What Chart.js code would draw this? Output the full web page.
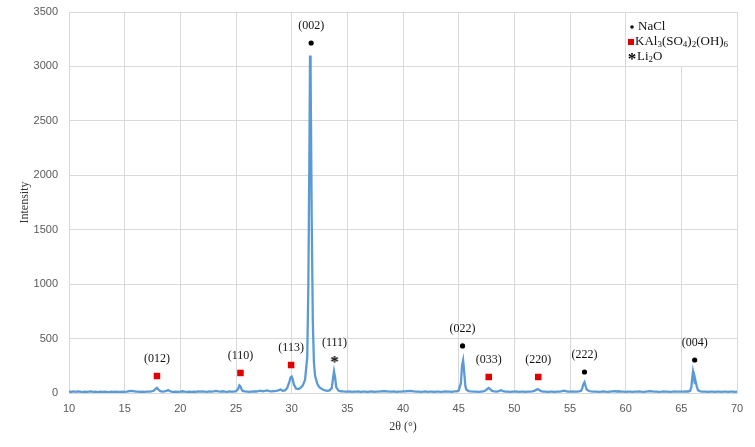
<!DOCTYPE html>
<html>
<head>
<meta charset="utf-8">
<script src="https://cdn.jsdelivr.net/npm/chart.js@4.4.1/dist/chart.umd.min.js"></script>
<style>
  html, body { margin: 0; padding: 0; background: #fff; }
  #wrap { width: 755px; height: 447px; }
</style>
</head>
<body>
<div id="wrap"><canvas id="xrd-chart" width="755" height="447"></canvas></div>
<script>
// XRD pattern
const twoTheta = [
  10.0, 10.2, 10.4, 10.6, 10.8, 11.0, 11.2, 11.4, 11.6, 11.8, 12.0, 12.2, 12.4, 12.6, 12.8,
  13.0, 13.2, 13.4, 13.6, 13.8, 14.0, 14.2, 14.4, 14.6, 14.8, 15.0, 15.2, 15.4, 15.6, 15.8,
  16.0, 16.2, 16.4, 16.6, 16.8, 17.0, 17.2, 17.4, 17.6, 17.8, 17.9, 18.0, 18.2, 18.4, 18.6,
  18.8, 18.9, 19.0, 19.2, 19.4, 19.6, 19.8, 20.0, 20.2, 20.4, 20.6, 20.8, 21.0, 21.2, 21.4,
  21.6, 21.8, 22.0, 22.2, 22.4, 22.6, 22.8, 23.0, 23.2, 23.4, 23.6, 23.8, 24.0, 24.2, 24.4,
  24.6, 24.8, 25.0, 25.2, 25.3, 25.4, 25.5, 25.6, 25.8, 26.0, 26.2, 26.4, 26.6, 26.8, 27.0,
  27.2, 27.4, 27.6, 27.8, 28.0, 28.2, 28.4, 28.6, 28.8, 29.0, 29.2, 29.4, 29.6, 29.8, 29.9,
  30.0, 30.1, 30.2, 30.4, 30.6, 30.8, 31.0, 31.2, 31.4, 31.5, 31.6, 31.65, 31.7, 31.8, 31.9,
  32.0, 32.1, 32.3, 32.5, 32.8, 33.0, 33.2, 33.4, 33.6, 33.7, 33.8, 33.9, 34.0, 34.2, 34.4,
  34.6, 34.8, 35.0, 35.2, 35.4, 35.6, 35.8, 36.0, 36.2, 36.4, 36.6, 36.8, 37.0, 37.2, 37.4,
  37.6, 37.8, 38.0, 38.2, 38.4, 38.6, 38.8, 39.0, 39.2, 39.4, 39.6, 39.8, 40.0, 40.2, 40.4,
  40.6, 40.8, 41.0, 41.2, 41.4, 41.6, 41.8, 42.0, 42.2, 42.4, 42.6, 42.8, 43.0, 43.2, 43.4,
  43.6, 43.8, 44.0, 44.2, 44.4, 44.6, 44.8, 45.0, 45.2, 45.3, 45.4, 45.5, 45.6, 45.7, 45.9,
  46.1, 46.4, 46.6, 46.8, 47.0, 47.2, 47.4, 47.6, 47.7, 47.8, 48.0, 48.2, 48.4, 48.6, 48.8,
  49.0, 49.2, 49.4, 49.6, 49.8, 50.0, 50.2, 50.4, 50.6, 50.8, 51.0, 51.2, 51.4, 51.6, 51.8,
  52.0, 52.1, 52.2, 52.4, 52.6, 52.8, 53.0, 53.2, 53.4, 53.6, 53.8, 54.0, 54.2, 54.4, 54.5,
  54.6, 54.8, 55.0, 55.2, 55.4, 55.6, 55.8, 56.0, 56.1, 56.2, 56.3, 56.4, 56.5, 56.7, 56.9,
  57.1, 57.4, 57.6, 57.8, 58.0, 58.2, 58.4, 58.6, 58.8, 59.0, 59.2, 59.4, 59.6, 59.8, 60.0,
  60.2, 60.4, 60.6, 60.8, 61.0, 61.2, 61.4, 61.6, 61.8, 62.0, 62.2, 62.4, 62.6, 62.8, 63.0,
  63.2, 63.4, 63.6, 63.8, 64.0, 64.2, 64.4, 64.6, 64.8, 65.0, 65.2, 65.4, 65.6, 65.8, 65.9,
  66.0, 66.05, 66.1, 66.2, 66.25, 66.3, 66.4, 66.5, 66.7, 66.9, 67.1, 67.4, 67.6, 67.8, 68.0,
  68.2, 68.4, 68.6, 68.8, 69.0, 69.2, 69.4, 69.6, 69.8, 70.0
];
const intensity = [
  12, 10, 14, 11, 15, 12, 9, 13, 10, 12, 14, 11, 13, 9, 12,
  10, 13, 11, 9, 12, 10, 13, 11, 10, 12, 11, 13, 18, 20, 17,
  13, 12, 10, 12, 11, 13, 12, 14, 20, 40, 48, 34, 17, 13, 14,
  22, 27, 20, 13, 11, 12, 10, 12, 16, 13, 11, 12, 10, 13, 11,
  14, 12, 15, 12, 11, 14, 12, 15, 19, 14, 12, 16, 13, 11, 14,
  12, 13, 16, 38, 70, 60, 34, 19, 14, 13, 11, 13, 15, 14, 17,
  22, 16, 19, 24, 17, 15, 18, 20, 24, 32, 20, 24, 46, 105, 142,
  150, 125, 78, 40, 36, 48, 70, 120, 330, 1000, 2300, 3100, 2950, 1600, 650,
  280, 160, 85, 52, 32, 25, 20, 24, 45, 125, 200, 145, 55, 22, 16,
  14, 13, 12, 14, 11, 13, 12, 14, 11, 12, 13, 10, 12, 14, 11,
  13, 12, 14, 16, 18, 15, 13, 12, 14, 11, 13, 12, 14, 15, 18,
  20, 17, 14, 12, 13, 11, 12, 14, 11, 13, 12, 10, 12, 13, 11,
  12, 14, 12, 13, 11, 14, 15, 22, 90, 250, 300, 190, 65, 30, 18,
  14, 12, 13, 11, 13, 14, 22, 40, 46, 37, 19, 14, 13, 18, 26,
  18, 13, 12, 11, 13, 12, 14, 11, 13, 12, 11, 13, 12, 15, 20,
  31, 36, 29, 17, 13, 12, 11, 13, 12, 11, 13, 12, 14, 20, 22,
  16, 13, 12, 14, 13, 12, 15, 20, 45, 82, 100, 64, 32, 18, 14,
  12, 13, 11, 12, 14, 12, 11, 13, 15, 17, 14, 16, 13, 12, 11,
  13, 12, 11, 13, 12, 14, 12, 11, 13, 15, 17, 14, 12, 13, 11,
  12, 14, 12, 13, 11, 12, 14, 13, 12, 13, 12, 14, 14, 20, 55,
  155, 200, 175, 95, 98, 100, 55, 26, 15, 13, 12, 11, 13, 12, 11,
  13, 12, 11, 13, 12, 11, 13, 12, 11, 12
];

// phase markers: position (2θ), marker height (intensity), Miller indices
const naclPos = [31.75, 45.35, 56.3, 66.2];
const naclMark = [3215, 432, 193, 303];
const naclHkl = ["(002)", "(022)", "(222)", "(004)"];

const kalPos = [17.9, 25.4, 29.95, 47.7, 52.15];
const kalMark = [156, 184, 257, 147, 147];
const kalHkl = ["(012)", "(110)", "(113)", "(033)", "(220)"];

const li2oPos = [33.85];
const li2oMark = [303];
const li2oHkl = ["(111)"];

const xTicks = [10, 15, 20, 25, 30, 35, 40, 45, 50, 55, 60, 65, 70];
const yTicks = [0, 500, 1000, 1500, 2000, 2500, 3000, 3500];

const serif = "'Liberation Serif', 'Times New Roman', serif";
const sans = "'Liberation Sans', Arial, sans-serif";

const toPoints = (xs, ys) => xs.map((x, i) => ({ x: x, y: ys[i] }));

// asterisk marker as a tiny canvas
const starImg = document.createElement("canvas");
starImg.width = 12; starImg.height = 12;
(function () {
  const c = starImg.getContext("2d");
  c.fillStyle = "#000";
  c.font = "bold 17px " + serif;
  c.textAlign = "center";
  c.textBaseline = "middle";
  c.fillText("*", 6, 9);
})();

const hklLabels = {
  id: "hklLabels",
  afterDatasetsDraw(chart) {
    const ctx = chart.ctx;
    const xs = chart.scales.x, ys = chart.scales.y;
    const groups = [[naclPos, naclMark, naclHkl], [kalPos, kalMark, kalHkl], [li2oPos, li2oMark, li2oHkl]];
    ctx.save();
    ctx.fillStyle = "#111";
    ctx.font = "12px " + serif;
    ctx.textAlign = "center";
    ctx.textBaseline = "middle";
    groups.forEach(g => {
      g[0].forEach((p, i) => {
        ctx.fillText(g[2][i], xs.getPixelForValue(p), ys.getPixelForValue(g[1][i]) - 17);
      });
    });
    ctx.restore();
  }
};

// text with subscripts: parts alternate normal / subscript
function drawSubText(ctx, parts, x, y) {
  let cx = x;
  parts.forEach((t, i) => {
    const sub = i % 2 === 1;
    ctx.font = (sub ? "9px " : "13px ") + serif;
    ctx.fillText(t, cx, sub ? y + 3 : y);
    cx += ctx.measureText(t).width;
  });
}

const phaseLegend = {
  id: "phaseLegend",
  afterDraw(chart) {
    const ctx = chart.ctx;
    const area = chart.chartArea;
    const left = area.right - 110;
    const top = area.top + 1;
    ctx.save();
    ctx.fillStyle = "#fff";
    ctx.fillRect(left + 2, top, 108, 53);
    ctx.textBaseline = "middle";
    ctx.textAlign = "left";
    ctx.fillStyle = "#111";
    // NaCl
    ctx.beginPath();
    ctx.arc(left + 5, top + 14, 1.8, 0, Math.PI * 2);
    ctx.fill();
    drawSubText(ctx, ["NaCl"], left + 11, top + 14);
    // alunite
    ctx.fillStyle = "#e00000";
    ctx.fillRect(left + 1, top + 26, 6, 6);
    ctx.fillStyle = "#111";
    drawSubText(ctx, ["KAl", "3", "(SO", "4", ")", "2", "(OH)", "6"], left + 8, top + 29);
    // Li2O
    ctx.drawImage(starImg, left - 1, top + 38);
    drawSubText(ctx, ["Li", "2", "O"], left + 10, top + 44);
    ctx.restore();
  }
};

new Chart(document.getElementById("xrd-chart"), {
  type: "scatter",
  data: {
    datasets: [
      {
        label: "NaCl",
        data: toPoints(naclPos, naclMark),
        pointStyle: "circle",
        pointRadius: 2.6,
        backgroundColor: "#000",
        borderColor: "#000",
        borderWidth: 0
      },
      {
        label: "KAl3(SO4)2(OH)6",
        data: toPoints(kalPos, kalMark),
        pointStyle: "rect",
        pointRadius: 4.6,
        backgroundColor: "#e00000",
        borderColor: "#e00000",
        borderWidth: 0
      },
      {
        label: "Li2O",
        data: toPoints(li2oPos, li2oMark),
        pointStyle: starImg,
        pointRadius: 6
      },
      {
        label: "Intensity",
        data: toPoints(twoTheta, intensity),
        showLine: true,
        borderColor: "#5b9bd5",
        borderWidth: 2.3,
        pointRadius: 0,
        tension: 0,
        fill: false
      }
    ]
  },
  options: {
    responsive: false,
    animation: false,
    events: [],
    layout: { padding: { top: 12, right: 18, left: 0, bottom: 0 } },
    plugins: {
      legend: { display: false },
      tooltip: { enabled: false }
    },
    scales: {
      x: {
        type: "linear",
        min: 10,
        max: 70,
        afterFit: s => { s.height = 54; },
        afterBuildTicks: s => { s.ticks = xTicks.map(v => ({ value: v })); },
        grid: { color: "#d9d9d9", drawTicks: true, tickLength: 7, tickColor: "rgba(0,0,0,0)" },
        border: { color: "#d9d9d9" },
        ticks: { color: "#595959", font: { family: sans, size: 11 }, padding: 2, callback: v => String(v) },
        title: {
          display: true,
          text: "2θ (°)",
          color: "#333",
          font: { family: serif, size: 12 },
          padding: { top: 0, bottom: 13 }
        }
      },
      y: {
        min: 0,
        max: 3500,
        afterFit: s => { s.width = 69; },
        afterBuildTicks: s => { s.ticks = yTicks.map(v => ({ value: v })); },
        grid: { color: "#d9d9d9", drawTicks: true, tickLength: 9, tickColor: "rgba(0,0,0,0)" },
        border: { color: "#d9d9d9" },
        ticks: { color: "#595959", font: { family: sans, size: 11 }, padding: 2, callback: v => String(v) },
        title: {
          display: true,
          text: "Intensity",
          color: "#333",
          font: { family: serif, size: 12 },
          padding: { top: 18, bottom: 0 }
        }
      }
    }
  },
  plugins: [hklLabels, phaseLegend]
});
</script>
</body>
</html>
